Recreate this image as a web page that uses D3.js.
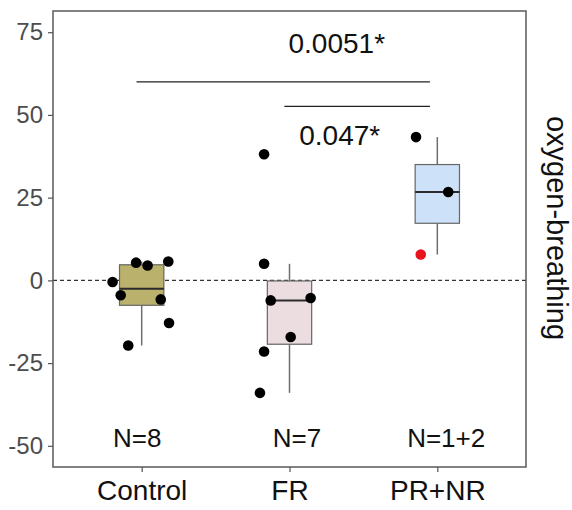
<!DOCTYPE html>
<html>
<head>
<meta charset="utf-8">
<script src="https://cdn.jsdelivr.net/npm/d3@7"></script>
<style>
  html, body { margin: 0; padding: 0; background: #fff; }
  svg { display: block; font-family: "Liberation Sans", Arial, sans-serif; }
</style>
</head>
<body>
<svg id="chart" width="572" height="510"></svg>
<script>
// ---------------- data ----------------
const categories = ["Control", "FR", "PR+NR"];
const nLabels = ["N=8", "N=7", "N=1+2"];
const controlValues = [5.35, 4.5, 5.7, -0.5, -4.5, -5.75, -12.9, -19.7];
const controlJitter = [-0.038, 0.040, 0.18, -0.197, -0.142, 0.129, 0.185, -0.091];
const frValues = [38.1, 5.0, -6.05, -5.35, -17.1, -21.5, -34.0];
const frJitter = [-0.172, -0.172, -0.127, 0.143, 0.008, -0.172, -0.2];
const prnrValues = [43.3, 26.7, 7.8];
const prnrJitter = [-0.144, 0.074, -0.112];
const prnrHighlight = [false, false, true];
const yTicks = [-50, -25, 0, 25, 50, 75];
const comparisons = [
  { from: "Control", to: "PR+NR", y: 60, label: "0.0051*" },
  { from: "FR", to: "PR+NR", y: 52.6, label: "0.047*" }
];
const axisTitle = "oxygen-breathing";

// ---------------- layout ----------------
const W = 572, H = 510;
const panel = { left: 53, right: 526, top: 11, bottom: 467 };
const svg = d3.select("#chart");

const x = d3.scalePoint().domain(categories).range([panel.left, panel.right]).padding(0.6);
const step = x.step();
const y = d3.scaleLinear().domain([-56.4, 81.4]).range([panel.bottom, panel.top]);

const groups = [
  { cat: "Control", values: controlValues, jitter: controlJitter, fill: "#b9b16c", hl: controlValues.map(() => false) },
  { cat: "FR", values: frValues, jitter: frJitter, fill: "#ecdde1", hl: frValues.map(() => false) },
  { cat: "PR+NR", values: prnrValues, jitter: prnrJitter, fill: "#cde1f8", hl: prnrHighlight }
];

// box stats (ggplot-like: type 7 quantiles, 1.5 IQR whiskers)
groups.forEach(g => {
  const s = g.values.slice().sort(d3.ascending);
  const q1 = d3.quantile(s, 0.25), med = d3.quantile(s, 0.5), q3 = d3.quantile(s, 0.75);
  const iqr = q3 - q1;
  const lo = d3.min(s.filter(v => v >= q1 - 1.5 * iqr));
  const hi = d3.max(s.filter(v => v <= q3 + 1.5 * iqr));
  g.stats = { q1, med, q3, lo, hi };
});

// zero dashed line
svg.append("line")
  .attr("x1", panel.left).attr("x2", panel.right)
  .attr("y1", y(0)).attr("y2", y(0))
  .attr("stroke", "#333").attr("stroke-width", 1.3)
  .attr("stroke-dasharray", "4,3");

const boxW = step * 0.3;
const gBox = svg.append("g");
groups.forEach(g => {
  const cx = x(g.cat), st = g.stats;
  gBox.append("line").attr("x1", cx).attr("x2", cx)
    .attr("y1", y(st.q3)).attr("y2", y(st.hi))
    .attr("stroke", "#6e6e6e").attr("stroke-width", 1.5);
  gBox.append("line").attr("x1", cx).attr("x2", cx)
    .attr("y1", y(st.q1)).attr("y2", y(st.lo))
    .attr("stroke", "#6e6e6e").attr("stroke-width", 1.5);
  gBox.append("rect")
    .attr("x", cx - boxW / 2).attr("width", boxW)
    .attr("y", y(st.q3)).attr("height", y(st.q1) - y(st.q3))
    .attr("fill", g.fill).attr("stroke", "#666").attr("stroke-width", 1.2);
  gBox.append("line")
    .attr("x1", cx - boxW / 2).attr("x2", cx + boxW / 2)
    .attr("y1", y(st.med)).attr("y2", y(st.med))
    .attr("stroke", "#2b2b2b").attr("stroke-width", 2);
});

// points
const gPts = svg.append("g");
groups.forEach(g => {
  g.values.forEach((v, i) => {
    gPts.append("circle")
      .attr("cx", x(g.cat) + g.jitter[i] * step)
      .attr("cy", y(v))
      .attr("r", 5.3)
      .attr("fill", g.hl[i] ? "#e8141c" : "#000");
  });
});

// N labels
const nShift = [-0.03, 0.05, 0.06];
categories.forEach((c, i) => {
  svg.append("text")
    .attr("x", x(c) + nShift[i] * step)
    .attr("y", y(-50) + 1)
    .attr("text-anchor", "middle")
    .attr("font-size", 26)
    .attr("fill", "#111")
    .text(nLabels[i]);
});

// comparison brackets
const bracketInset = [0.035, 0.05];
const labelPos = [{ dx: -0.68, y: 53 }, { dx: -0.66, y: 145 }];
comparisons.forEach((c, i) => {
  const x1 = x(c.from) - bracketInset[0] * step;
  const x2 = x(c.to) - bracketInset[1] * step;
  svg.append("line")
    .attr("x1", x1).attr("x2", x2)
    .attr("y1", y(c.y)).attr("y2", y(c.y))
    .attr("stroke", "#222").attr("stroke-width", 1.3);
  svg.append("text")
    .attr("x", x(c.to) + labelPos[i].dx * step)
    .attr("y", labelPos[i].y)
    .attr("text-anchor", "middle")
    .attr("font-size", 28)
    .attr("fill", "#111")
    .text(c.label);
});

// panel border
svg.append("rect")
  .attr("x", panel.left).attr("y", panel.top)
  .attr("width", panel.right - panel.left).attr("height", panel.bottom - panel.top)
  .attr("fill", "none").attr("stroke", "#5a5a5a").attr("stroke-width", 1.5);

// y axis
const yAxis = svg.append("g")
  .attr("transform", `translate(${panel.left},0)`)
  .call(d3.axisLeft(y).tickValues(yTicks).tickSize(5).tickPadding(5).tickFormat(d => String(d)));
yAxis.select(".domain").remove();
yAxis.selectAll(".tick line").attr("stroke", "#555").attr("stroke-width", 1.2);
yAxis.selectAll(".tick text")
  .attr("font-size", 24).attr("fill", "#4d4d4d")
  .attr("font-family", "Liberation Sans, Arial, sans-serif");

// x axis
const xAxis = svg.append("g")
  .attr("transform", `translate(0,${panel.bottom})`)
  .call(d3.axisBottom(x).tickSize(5).tickPadding(8));
xAxis.select(".domain").remove();
xAxis.selectAll(".tick line").attr("stroke", "#555").attr("stroke-width", 1.2);
xAxis.selectAll(".tick text")
  .attr("font-size", 28).attr("fill", "#111")
  .attr("font-family", "Liberation Sans, Arial, sans-serif");

// right-side title
svg.append("text")
  .attr("transform", `translate(547,228) rotate(90)`)
  .attr("text-anchor", "middle")
  .attr("font-size", 29)
  .attr("fill", "#111")
  .text(axisTitle);
</script>
</body>
</html>
